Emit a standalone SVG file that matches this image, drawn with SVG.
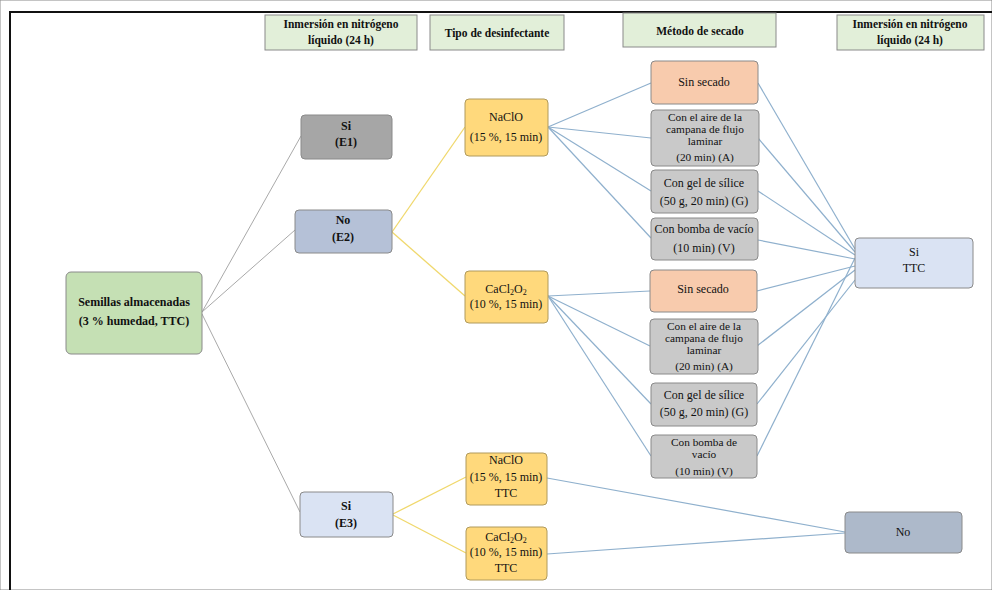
<svg xmlns="http://www.w3.org/2000/svg" width="992" height="590" viewBox="0 0 992 590">
<style>
text{font-family:"Liberation Serif","Times New Roman",serif;font-size:12px;fill:#111;text-anchor:middle}
.b{font-weight:bold}
.h{font-weight:bold;font-size:11.5px}
.t{font-size:11.3px}
rect{stroke:#8a8a8a;stroke-width:1}
.hd{fill:#e2efd9}
.root{fill:#c5e0b4}
.e1{fill:#a6a6a6}
.e2{fill:#b5c1d7}
.e3{fill:#dae3f3}
.y{fill:#ffd97c;stroke:#b09a5c}
.p{fill:#f8cbad}
.g{fill:#c9c9c9}
.no{fill:#adb9ca}
.cg line{stroke:#a9a9a9;stroke-width:1}
.cy line{stroke:#f0d86c;stroke-width:1.3}
.cb line{stroke:#8fb0cd;stroke-width:1.2}
</style>
<rect x="0" y="0" width="992" height="590" fill="#fff" stroke="none"/>
<g id="frame"><line x1="10" y1="12" x2="992" y2="12" stroke="#111" stroke-width="2"/><line x1="10" y1="11" x2="10" y2="590" stroke="#111" stroke-width="2"/></g>

<g id="connectors">
<g class="cg">
<line x1="202" y1="312" x2="301" y2="136"/>
<line x1="202" y1="312" x2="295" y2="230"/>
<line x1="202" y1="314" x2="300" y2="512"/>
</g>
<g class="cy">
<line x1="392" y1="232" x2="465" y2="127"/>
<line x1="392" y1="232" x2="465" y2="296"/>
<line x1="393" y1="514" x2="466" y2="477"/>
<line x1="393" y1="515" x2="466" y2="553"/>
</g>
<g class="cb">
<line x1="548" y1="127" x2="651" y2="83"/>
<line x1="548" y1="127" x2="651" y2="138"/>
<line x1="548" y1="127" x2="651" y2="191"/>
<line x1="548" y1="127" x2="651" y2="238"/>
<line x1="548" y1="296" x2="650" y2="291"/>
<line x1="548" y1="296" x2="650" y2="346"/>
<line x1="548" y1="296" x2="651" y2="404"/>
<line x1="548" y1="296" x2="651" y2="456"/>
<line x1="758" y1="83" x2="855" y2="249"/>
<line x1="758" y1="138" x2="855" y2="252"/>
<line x1="758" y1="191" x2="855" y2="255"/>
<line x1="758" y1="240" x2="855" y2="259"/>
<line x1="757" y1="291" x2="855" y2="266"/>
<line x1="757" y1="346" x2="855" y2="270"/>
<line x1="757" y1="404" x2="855" y2="280"/>
<line x1="757" y1="456" x2="855" y2="258"/>
<line x1="547" y1="478" x2="845" y2="532"/>
<line x1="547" y1="554" x2="845" y2="533"/>
</g>
</g>

<g id="h1"><rect class="hd" x="265" y="15" width="152" height="35"/><text class="h" x="341" y="28">Inmersión en nitrógeno</text><text class="h" x="341" y="44">líquido (24 h)</text></g>
<g id="h2"><rect class="hd" x="430" y="15" width="134" height="35"/><text class="h" x="497" y="37">Tipo de desinfectante</text></g>
<g id="h3"><rect class="hd" x="623" y="13" width="153" height="34"/><text class="h" x="700" y="35">Método de secado</text></g>
<g id="h4"><rect class="hd" x="837" y="15" width="147" height="35"/><text class="h" x="910" y="28">Inmersión en nitrógeno</text><text class="h" x="910" y="44">líquido (24 h)</text></g>

<g id="root"><rect class="root" x="66" y="272" width="136" height="82" rx="5"/><text class="b" x="134" y="306">Semillas almacenadas</text><text class="b" x="134" y="325">(3 % humedad, TTC)</text></g>
<g id="e1"><rect class="e1" x="301" y="115" width="91" height="44" rx="4"/><text class="b" x="346" y="130">Si</text><text class="b" x="346" y="146">(E1)</text></g>
<g id="e2"><rect class="e2" x="295" y="210" width="97" height="43" rx="4"/><text class="b" x="343" y="224">No</text><text class="b" x="343" y="241">(E2)</text></g>
<g id="e3"><rect class="e3" x="300" y="492" width="93" height="45" rx="4"/><text class="b" x="346" y="510">Si</text><text class="b" x="346" y="527">(E3)</text></g>

<g id="naclo1"><rect class="y" x="465" y="99" width="83" height="57" rx="4"/><text x="506" y="121">NaClO</text><text x="506" y="141">(15 %, 15 min)</text></g>
<g id="cacl1"><rect class="y" x="465" y="271" width="83" height="52" rx="4"/><text x="506" y="293">CaCl<tspan font-size="8" dy="2">2</tspan><tspan dy="-2">O</tspan><tspan font-size="8" dy="2">2</tspan></text><text x="506" y="308">(10 %, 15 min)</text></g>
<g id="naclo2"><rect class="y" x="466" y="453" width="81" height="52" rx="4"/><text x="506" y="464">NaClO</text><text x="506" y="481">(15 %, 15 min)</text><text x="506" y="497">TTC</text></g>
<g id="cacl2"><rect class="y" x="466" y="527" width="81" height="53" rx="4"/><text x="506" y="541">CaCl<tspan font-size="8" dy="2">2</tspan><tspan dy="-2">O</tspan><tspan font-size="8" dy="2">2</tspan></text><text x="506" y="556">(10 %, 15 min)</text><text x="506" y="572">TTC</text></g>

<g id="sin1"><rect class="p" x="651" y="61" width="107" height="43" rx="4"/><text x="704" y="86">Sin secado</text></g>
<g id="aire1"><rect class="g" x="651" y="110" width="108" height="56" rx="4"/><text class="t" x="705" y="120.5">Con el aire de la</text><text class="t" x="705" y="132.5">campana de flujo</text><text class="t" x="705" y="144.5">laminar</text><text class="t" x="705" y="161">(20 min) (A)</text></g>
<g id="gel1"><rect class="g" x="651" y="170" width="107" height="43" rx="4"/><text x="704" y="187">Con gel de sílice</text><text x="704" y="205">(50 g, 20 min) (G)</text></g>
<g id="bomba1"><rect class="g" x="651" y="218" width="107" height="42" rx="4"/><text x="704" y="233">Con bomba de vacío</text><text x="704" y="252">(10 min) (V)</text></g>
<g id="sin2"><rect class="p" x="650" y="270" width="107" height="42" rx="4"/><text x="703" y="293">Sin secado</text></g>
<g id="aire2"><rect class="g" x="650" y="319" width="108" height="55" rx="4"/><text class="t" x="704" y="330">Con el aire de la</text><text class="t" x="704" y="342">campana de flujo</text><text class="t" x="704" y="354">laminar</text><text class="t" x="704" y="370">(20 min) (A)</text></g>
<g id="gel2"><rect class="g" x="651" y="383" width="106" height="43" rx="4"/><text x="704" y="399">Con gel de sílice</text><text x="704" y="416">(50 g, 20 min) (G)</text></g>
<g id="bomba2"><rect class="g" x="651" y="435" width="106" height="43" rx="4"/><text class="t" x="704" y="445.5">Con bomba de</text><text class="t" x="704" y="457.5">vacío</text><text class="t" x="704" y="474.5">(10 min) (V)</text></g>

<g id="sittc"><rect class="e3" x="855" y="238" width="118" height="50" rx="4"/><text x="914" y="256">Si</text><text x="914" y="272">TTC</text></g>
<g id="no"><rect class="no" x="845" y="512" width="117" height="41" rx="4"/><text x="903" y="536">No</text></g>
</svg>
